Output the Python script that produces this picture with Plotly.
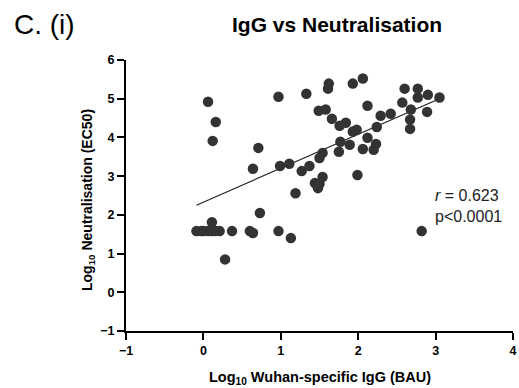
import plotly.graph_objects as go

# Data (log10 values)
igg_log10 = [
    -0.09, -0.03, 0.00, 0.06, 0.11, 0.11, 0.16, 0.21, 0.37, 0.60, 0.64, 0.97, 1.13,
    0.28, 0.73, 0.06, 0.16, 0.12, 0.97, 0.71, 0.64, 0.99, 1.11, 1.19, 1.33,
    1.62, 1.61, 1.93, 2.06, 1.49, 1.58, 1.66, 1.76, 1.84, 2.12, 2.29, 2.42,
    2.24, 1.93, 1.98, 1.77, 2.12, 1.89, 1.75, 2.06, 2.20, 2.23, 1.54, 1.50,
    1.37, 1.27, 1.54, 1.44, 1.48, 1.50, 1.99, 2.60, 2.77, 2.77, 2.90, 3.05,
    2.57, 2.68, 2.89, 2.67, 2.67, 2.82,
]
neut_log10 = [
    1.58, 1.58, 1.58, 1.58, 1.81, 1.58, 1.58, 1.58, 1.58, 1.58, 1.53, 1.58, 1.40,
    0.85, 2.05, 4.92, 4.40, 3.91, 5.05, 3.73, 3.19, 3.26, 3.32, 2.56, 5.13,
    5.39, 5.26, 5.39, 5.52, 4.69, 4.72, 4.48, 4.30, 4.38, 4.82, 4.56, 4.61,
    4.27, 4.15, 4.20, 3.89, 3.99, 3.81, 3.63, 3.70, 3.68, 3.83, 3.60, 3.47,
    3.26, 3.13, 2.98, 2.82, 2.69, 2.80, 3.03, 5.26, 5.26, 5.03, 5.10, 5.03,
    4.90, 4.72, 4.66, 4.46, 4.22, 1.58,
]
fit_x = [-0.09, 3.05]
fit_y = [2.25, 5.00]
x_ticks = [-1, 0, 1, 2, 3, 4]
y_ticks = [-1, 0, 1, 2, 3, 4, 5, 6]

FONT = "Arial, Liberation Sans, sans-serif"
W, H = 519, 388
ML, MR, MT, MB = 126, 6, 60, 57
PW, PH = W - ML - MR, H - MT - MB


def px_to_paper(px, py):
    return (px - ML) / PW, (H - MB - py) / PH


fig = go.Figure()
fig.add_trace(go.Scatter(
    x=fit_x, y=fit_y, mode="lines",
    line=dict(color="#222222", width=1.2), hoverinfo="skip", showlegend=False,
))
fig.add_trace(go.Scatter(
    x=igg_log10, y=neut_log10, mode="markers",
    marker=dict(size=10.5, color="#333333", line=dict(width=0)),
    showlegend=False,
))

axis_common = dict(
    showline=True, linecolor="black", linewidth=2,
    ticks="outside", ticklen=7, tickwidth=2, tickcolor="black",
    showgrid=False, zeroline=False,
    tickfont=dict(family=FONT, size=12.5, color="black", weight="bold"),
)

fig.update_xaxes(range=[-1, 4], tickvals=x_ticks, **axis_common)
fig.update_yaxes(range=[-1, 6], tickvals=y_ticks, **axis_common)

tx, ty = px_to_paper(337, 25)
cx, cy = px_to_paper(12, 25)
xtx, xty = px_to_paper(320, 378)
ytx, yty = px_to_paper(88, 200)

annotations = [
    dict(text="IgG vs Neutralisation", x=tx, y=ty, xref="paper", yref="paper",
         showarrow=False, xanchor="center", yanchor="middle",
         font=dict(family=FONT, size=21, color="black", weight="bold")),
    dict(text="C. (i)", x=cx, y=cy, xref="paper", yref="paper",
         showarrow=False, xanchor="left", yanchor="middle",
         font=dict(family=FONT, size=28, color="black")),
    dict(text="Log<sub>10</sub> Wuhan-specific IgG (BAU)", x=xtx, y=xty,
         xref="paper", yref="paper", showarrow=False,
         xanchor="center", yanchor="middle",
         font=dict(family=FONT, size=14.5, color="black", weight="bold")),
    dict(text="Log<sub>10</sub> Neutralisation (EC50)", x=ytx, y=yty,
         xref="paper", yref="paper", showarrow=False, textangle=-90,
         xanchor="center", yanchor="middle",
         font=dict(family=FONT, size=14, color="black", weight="bold")),
    dict(text="<i>r</i> = 0.623<br>p&lt;0.0001", x=2.96, y=2.23,
         xref="x", yref="y", showarrow=False, xanchor="left", yanchor="middle",
         align="left", font=dict(family=FONT, size=16, color="#222222")),
]

fig.update_layout(
    width=W, height=H,
    margin=dict(l=ML, r=MR, t=MT, b=MB, autoexpand=False),
    paper_bgcolor="white", plot_bgcolor="white",
    annotations=annotations,
)

fig.write_html("out.html")
